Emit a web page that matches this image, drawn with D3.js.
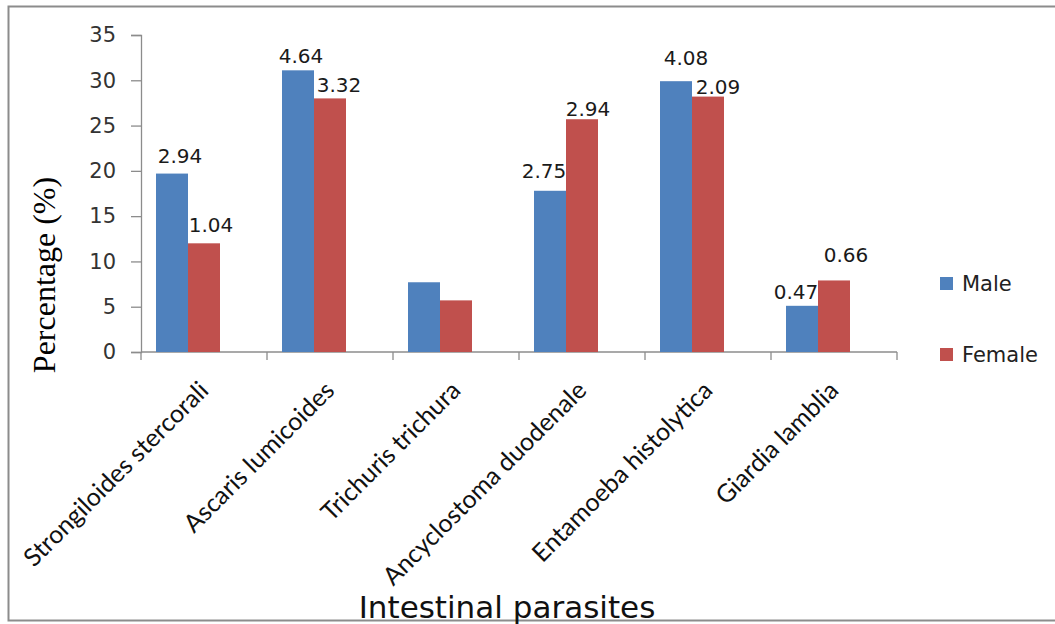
<!DOCTYPE html>
<html>
<head>
<meta charset="utf-8">
<script src="https://cdn.jsdelivr.net/npm/d3@7"></script>
<style>
  body { margin: 0; background: #fff; }
  svg { display: block; }
</style>
</head>
<body>
<svg id="chart"></svg>
<script>
// data
const parasites = ["Strongiloides stercorali", "Ascaris lumicoides", "Trichuris trichura",
                   "Ancyclostoma duodenale", "Entamoeba histolytica", "Giardia lamblia"]
const seriesNames = ["Male", "Female"]
const maleValues = [19.7, 31.1, 7.7, 17.8, 29.9, 5.1]
const femaleValues = [12.0, 28.0, 5.7, 25.7, 28.2, 7.9]
const maleLabels = ["2.94", "4.64", null, "2.75", "4.08", "0.47"]
const femaleLabels = ["1.04", "3.32", null, "2.94", "2.09", "0.66"]
const yTicks = [0, 5, 10, 15, 20, 25, 30, 35]

// label nudges [dx from bar centre, gap above bar top] - the original labels sit unevenly
const maleNudge = [[8, 11], [3, 7], [0, 0], [-6, 13], [10, 16], [-6, 7]]
const femaleNudge = [[7, 11], [9, 6], [0, 0], [6, 3], [10, 3], [12, 18]]

const colors = {Male: "#4F81BD", Female: "#C0504D"}

const width = 1055, height = 624
const plot = {left: 141, right: 897, top: 35, bottom: 352}

const svg = d3.select("#chart").attr("width", width).attr("height", height)

svg.append("rect")
    .attr("x", 0).attr("y", 0).attr("width", width).attr("height", height)
    .attr("fill", "#fff")

// outer frame
svg.append("rect")
    .attr("x", 8.5).attr("y", 6.5)
    .attr("width", 1060).attr("height", 614)
    .attr("fill", "none")
    .attr("stroke", "#8c8c8c")
    .attr("stroke-width", 2)

const rows = parasites.map((p, i) => ({
    name: p,
    values: [
        {series: "Male", value: maleValues[i], label: maleLabels[i], nudge: maleNudge[i]},
        {series: "Female", value: femaleValues[i], label: femaleLabels[i], nudge: femaleNudge[i]}
    ]
}))

let xScale = d3.scaleBand()
    .domain(parasites)
    .range([plot.left, plot.right])

// bars sit a bit left of band centre in the original
let xInner = d3.scaleBand()
    .domain(seriesNames)
    .range([15, 79])

let yScale = d3.scaleLinear()
    .domain([0, 35])
    .range([plot.bottom, plot.top])

// y axis
let yAxis = svg.append("g")
    .attr("transform", `translate(${plot.left},0)`)
    .call(d3.axisLeft(yScale).tickValues(yTicks).tickSize(10).tickPadding(15))
yAxis.select(".domain").attr("stroke", "#8c8c8c").attr("stroke-width", 1.3)
yAxis.selectAll(".tick line").attr("stroke", "#8c8c8c").attr("stroke-width", 1.3)
yAxis.selectAll(".tick text")
    .attr("font-family", "DejaVu Sans")
    .attr("font-size", 21)
    .attr("fill", "#333")

// x axis: ticks at band boundaries
let xAxis = svg.append("g")
    .attr("transform", `translate(0,${plot.bottom})`)
xAxis.append("line")
    .attr("x1", plot.left).attr("x2", plot.right)
    .attr("stroke", "#8c8c8c").attr("stroke-width", 1.3)
xAxis.selectAll(".xtick")
    .data(parasites.concat(["end"]))
    .join("line")
    .attr("class", "xtick")
    .attr("x1", d => d === "end" ? plot.right : xScale(d))
    .attr("x2", d => d === "end" ? plot.right : xScale(d))
    .attr("y1", 0).attr("y2", 8)
    .attr("stroke", "#8c8c8c").attr("stroke-width", 1.3)

xAxis.selectAll(".xlabel")
    .data(parasites)
    .join("text")
    .attr("class", "xlabel")
    .attr("transform", d => `translate(${xScale(d) + xScale.bandwidth() / 2 + 6},${40}) rotate(-45)`)
    .attr("text-anchor", "end")
    .attr("font-family", "Lato")
    .attr("font-size", 25)
    .attr("fill", "#111")
    .text(d => d)

// bars
let groups = svg.append("g").selectAll("g")
    .data(rows)
    .join("g")
    .attr("transform", d => `translate(${xScale(d.name)},0)`)

groups.selectAll("rect")
    .data(d => d.values)
    .join("rect")
    .attr("x", d => xInner(d.series))
    .attr("y", d => yScale(d.value))
    .attr("width", xInner.bandwidth())
    .attr("height", d => yScale(0) - yScale(d.value))
    .attr("fill", d => colors[d.series])

groups.selectAll("text")
    .data(d => d.values.filter(v => v.label))
    .join("text")
    .attr("x", d => xInner(d.series) + xInner.bandwidth() / 2 + d.nudge[0])
    .attr("y", d => yScale(d.value) - d.nudge[1])
    .attr("text-anchor", "middle")
    .attr("font-family", "DejaVu Sans")
    .attr("font-size", 20)
    .attr("fill", "#1a1a1a")
    .text(d => d.label)

// legend
let legend = svg.append("g").selectAll("g")
    .data(seriesNames)
    .join("g")
    .attr("transform", (d, i) => `translate(940,${277 + i * 71})`)
legend.append("rect")
    .attr("width", 13).attr("height", 13)
    .attr("fill", d => colors[d])
legend.append("text")
    .attr("x", 22).attr("y", 14)
    .attr("font-family", "DejaVu Sans")
    .attr("font-size", 21)
    .attr("fill", "#222")
    .text(d => d)

// axis titles
svg.append("text")
    .text("Percentage (%)")
    .attr("transform", `translate(55,${275}) rotate(-90)`)
    .attr("text-anchor", "middle")
    .attr("font-family", "Liberation Serif")
    .attr("font-size", 32)
    .attr("fill", "#000")

svg.append("text")
    .text("Intestinal parasites")
    .attr("x", 507).attr("y", 618)
    .attr("text-anchor", "middle")
    .attr("font-family", "DejaVu Sans")
    .attr("font-size", 31)
    .attr("fill", "#111")
</script>
</body>
</html>
